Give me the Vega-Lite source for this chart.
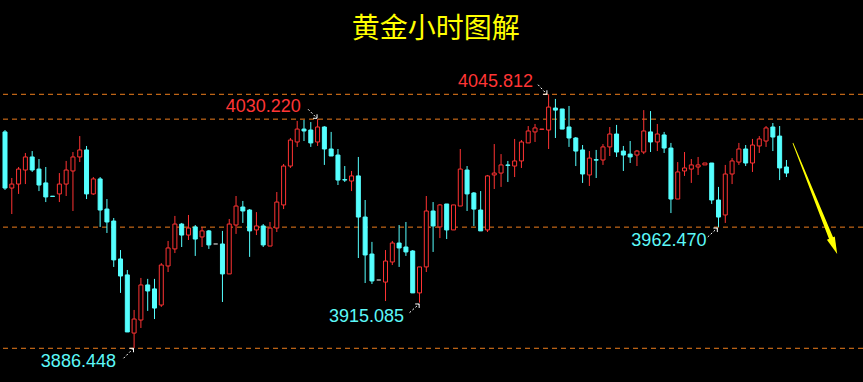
{
 "$schema": "https://vega.github.io/schema/vega-lite/v6.json",
 "width": 863, "height": 382, "padding": 0, "autosize": {"type": "none"},
 "background": "#000000",
 "config": {"view": {"stroke": null}},
 "datasets": {
  "candles": [
   {"i":0,"o":4022.2,"h":4023.4,"l":3985.8,"c":3987.0},
   {"i":1,"o":3987.0,"h":3993.3,"l":3970.7,"c":3989.5},
   {"i":2,"o":3989.5,"h":4000.2,"l":3983.3,"c":3998.9},
   {"i":3,"o":3998.3,"h":4009.0,"l":3989.5,"c":4006.5},
   {"i":4,"o":4006.5,"h":4010.2,"l":3997.1,"c":3998.3},
   {"i":5,"o":3998.9,"h":4005.2,"l":3985.1,"c":3988.9},
   {"i":6,"o":3990.2,"h":4000.2,"l":3978.2,"c":3981.4},
   {"i":7,"o":3981.9,"h":3982.0,"l":3981.5,"c":3981.7},
   {"i":8,"o":3983.3,"h":3996.4,"l":3978.2,"c":3989.5},
   {"i":9,"o":3989.5,"h":4004.0,"l":3982.0,"c":3998.3},
   {"i":10,"o":3997.7,"h":4009.6,"l":3972.6,"c":4006.5},
   {"i":11,"o":4006.5,"h":4019.6,"l":4003.3,"c":4010.9},
   {"i":12,"o":4010.9,"h":4013.4,"l":3980.1,"c":3983.3},
   {"i":13,"o":3983.3,"h":3993.9,"l":3982.7,"c":3992.7},
   {"i":14,"o":3992.7,"h":3993.9,"l":3962.6,"c":3973.2},
   {"i":15,"o":3973.8,"h":3980.1,"l":3958.8,"c":3965.7},
   {"i":16,"o":3966.3,"h":3968.2,"l":3937.5,"c":3941.9},
   {"i":17,"o":3942.5,"h":3948.1,"l":3921.2,"c":3931.8},
   {"i":18,"o":3932.5,"h":3935.6,"l":3896.7,"c":3896.7},
   {"i":19,"o":3896.0,"h":3910.5,"l":3886.448,"c":3904.8},
   {"i":20,"o":3904.2,"h":3930.6,"l":3899.2,"c":3926.2},
   {"i":21,"o":3926.2,"h":3930.0,"l":3909.9,"c":3922.4},
   {"i":22,"o":3923.7,"h":3930.0,"l":3904.8,"c":3911.7},
   {"i":23,"o":3913.6,"h":3939.9,"l":3912.4,"c":3938.7},
   {"i":24,"o":3938.1,"h":3953.8,"l":3934.3,"c":3949.4},
   {"i":25,"o":3948.8,"h":3969.5,"l":3946.2,"c":3964.4},
   {"i":26,"o":3964.4,"h":3965.1,"l":3950.0,"c":3957.5},
   {"i":27,"o":3957.5,"h":3970.1,"l":3954.4,"c":3961.9},
   {"i":28,"o":3962.6,"h":3963.8,"l":3944.4,"c":3955.0},
   {"i":29,"o":3956.3,"h":3962.6,"l":3950.0,"c":3960.1},
   {"i":30,"o":3960.1,"h":3960.7,"l":3948.8,"c":3951.3},
   {"i":31,"o":3951.9,"h":3951.9,"l":3951.9,"c":3951.9},
   {"i":32,"o":3951.9,"h":3960.1,"l":3915.5,"c":3933.1},
   {"i":33,"o":3933.1,"h":3967.6,"l":3933.1,"c":3964.4},
   {"i":34,"o":3963.8,"h":3982.0,"l":3958.2,"c":3975.7},
   {"i":35,"o":3975.1,"h":3978.9,"l":3965.1,"c":3972.6},
   {"i":36,"o":3973.2,"h":3973.8,"l":3943.8,"c":3960.1},
   {"i":37,"o":3960.7,"h":3971.9,"l":3957.5,"c":3963.2},
   {"i":38,"o":3963.2,"h":3964.4,"l":3950.0,"c":3951.3},
   {"i":39,"o":3950.6,"h":3965.7,"l":3950.6,"c":3961.9},
   {"i":40,"o":3961.9,"h":3984.5,"l":3959.4,"c":3978.2},
   {"i":41,"o":3976.4,"h":4002.1,"l":3973.8,"c":4000.8},
   {"i":42,"o":4000.8,"h":4018.4,"l":3999.6,"c":4017.1},
   {"i":43,"o":4015.9,"h":4029.1,"l":4012.8,"c":4024.0},
   {"i":44,"o":4024.0,"h":4029.7,"l":4016.5,"c":4022.8},
   {"i":45,"o":4023.4,"h":4028.4,"l":4012.8,"c":4015.3},
   {"i":46,"o":4015.9,"h":4030.22,"l":4013.4,"c":4025.3},
   {"i":47,"o":4025.3,"h":4025.8,"l":4001.5,"c":4011.5},
   {"i":48,"o":4011.5,"h":4022.2,"l":4007.1,"c":4007.1},
   {"i":49,"o":4007.7,"h":4011.5,"l":3988.9,"c":3992.0},
   {"i":50,"o":3992.3,"h":4000.8,"l":3990.8,"c":3992.0},
   {"i":51,"o":3991.4,"h":3997.7,"l":3985.1,"c":3994.6},
   {"i":52,"o":3994.6,"h":4006.5,"l":3943.1,"c":3968.8},
   {"i":53,"o":3968.8,"h":3979.5,"l":3927.4,"c":3945.0},
   {"i":54,"o":3945.6,"h":3953.2,"l":3926.8,"c":3928.7},
   {"i":55,"o":3929.3,"h":3929.3,"l":3929.3,"c":3929.3},
   {"i":56,"o":3928.0,"h":3948.1,"l":3916.1,"c":3941.2},
   {"i":57,"o":3940.6,"h":3953.8,"l":3938.7,"c":3952.5},
   {"i":58,"o":3952.5,"h":3963.8,"l":3937.5,"c":3949.4},
   {"i":59,"o":3950.0,"h":3965.7,"l":3944.4,"c":3946.9},
   {"i":60,"o":3947.5,"h":3948.1,"l":3921.2,"c":3921.2},
   {"i":61,"o":3921.2,"h":3937.5,"l":3915.085,"c":3937.5},
   {"i":62,"o":3937.5,"h":3982.0,"l":3934.3,"c":3972.6},
   {"i":63,"o":3972.6,"h":3978.2,"l":3946.9,"c":3963.2},
   {"i":64,"o":3962.6,"h":3977.0,"l":3955.6,"c":3976.4},
   {"i":65,"o":3977.0,"h":3977.0,"l":3955.0,"c":3960.7},
   {"i":66,"o":3960.7,"h":3976.4,"l":3960.7,"c":3976.4},
   {"i":67,"o":3975.7,"h":4011.5,"l":3975.7,"c":3998.9},
   {"i":68,"o":3998.3,"h":4000.8,"l":3972.6,"c":3983.3},
   {"i":69,"o":3983.9,"h":3984.5,"l":3963.2,"c":3973.8},
   {"i":70,"o":3973.2,"h":3985.1,"l":3960.1,"c":3960.1},
   {"i":71,"o":3960.7,"h":3995.2,"l":3959.4,"c":3994.6},
   {"i":72,"o":3995.2,"h":4014.6,"l":3986.4,"c":3996.4},
   {"i":73,"o":3996.4,"h":4008.3,"l":3987.7,"c":4001.5},
   {"i":74,"o":4001.5,"h":4004.0,"l":3990.8,"c":4001.2},
   {"i":75,"o":4000.8,"h":4017.8,"l":3993.9,"c":4004.0},
   {"i":76,"o":4004.0,"h":4017.1,"l":3999.6,"c":4015.9},
   {"i":77,"o":4015.3,"h":4025.9,"l":4015.3,"c":4022.8},
   {"i":78,"o":4022.2,"h":4027.2,"l":4015.9,"c":4024.7},
   {"i":79,"o":4023.8,"h":4024.0,"l":4023.8,"c":4024.0},
   {"i":80,"o":4023.4,"h":4045.812,"l":4011.5,"c":4037.8},
   {"i":81,"o":4037.2,"h":4042.9,"l":4018.4,"c":4035.9},
   {"i":82,"o":4036.6,"h":4036.6,"l":4024.0,"c":4024.0},
   {"i":83,"o":4025.3,"h":4038.5,"l":4012.8,"c":4018.4},
   {"i":84,"o":4018.4,"h":4019.0,"l":4000.8,"c":4010.2},
   {"i":85,"o":4010.9,"h":4014.0,"l":3990.2,"c":3995.8},
   {"i":86,"o":3995.2,"h":4010.2,"l":3988.3,"c":4005.8},
   {"i":87,"o":4004.8,"h":4010.9,"l":3993.3,"c":4004.5},
   {"i":88,"o":4004.6,"h":4014.6,"l":4001.5,"c":4012.8},
   {"i":89,"o":4012.8,"h":4025.3,"l":4007.1,"c":4020.9},
   {"i":90,"o":4020.9,"h":4026.6,"l":4006.5,"c":4009.6},
   {"i":91,"o":4010.2,"h":4013.4,"l":3997.7,"c":4007.7},
   {"i":92,"o":4008.3,"h":4016.5,"l":4002.7,"c":4006.5},
   {"i":93,"o":4007.7,"h":4010.9,"l":4000.8,"c":4010.2},
   {"i":94,"o":4009.6,"h":4035.9,"l":4008.3,"c":4022.8},
   {"i":95,"o":4022.2,"h":4035.3,"l":4009.6,"c":4015.9},
   {"i":96,"o":4015.9,"h":4027.2,"l":4010.2,"c":4020.9},
   {"i":97,"o":4020.3,"h":4022.2,"l":4009.0,"c":4012.1},
   {"i":98,"o":4012.1,"h":4015.3,"l":3971.3,"c":3980.1},
   {"i":99,"o":3980.1,"h":4003.3,"l":3980.1,"c":3997.1},
   {"i":100,"o":3997.7,"h":4009.6,"l":3994.6,"c":3999.6},
   {"i":101,"o":3998.9,"h":4005.2,"l":3990.2,"c":4001.5},
   {"i":102,"o":4000.2,"h":4006.5,"l":3995.2,"c":4001.5},
   {"i":103,"o":4001.5,"h":4002.7,"l":4001.5,"c":4002.7},
   {"i":104,"o":4002.7,"h":4002.7,"l":3977.0,"c":3979.5},
   {"i":105,"o":3979.5,"h":3987.7,"l":3962.47,"c":3968.8},
   {"i":106,"o":3970.1,"h":4001.5,"l":3965.1,"c":3995.8},
   {"i":107,"o":3995.8,"h":4005.8,"l":3989.5,"c":4004.0},
   {"i":108,"o":4003.3,"h":4015.3,"l":4001.5,"c":4011.5},
   {"i":109,"o":4011.5,"h":4014.0,"l":4000.8,"c":4002.7},
   {"i":110,"o":4002.7,"h":4017.8,"l":3997.1,"c":4014.0},
   {"i":111,"o":4013.4,"h":4019.6,"l":4009.0,"c":4017.8},
   {"i":112,"o":4016.5,"h":4025.9,"l":4012.8,"c":4024.7},
   {"i":113,"o":4025.3,"h":4027.8,"l":4010.2,"c":4019.0},
   {"i":114,"o":4019.6,"h":4025.9,"l":3992.0,"c":3999.6},
   {"i":115,"o":4000.2,"h":4004.6,"l":3993.9,"c":3996.4}
  ],
  "levels": [{"p":4045.812},{"p":4030.22},{"p":3962.47},{"p":3886.448}],
  "labels": [
   {"i":72.19,"p":4053.7,"t":"4045.812","kind":"high"},
   {"i":38.0,"p":4038.0,"t":"4030.220","kind":"high"},
   {"i":10.8,"p":3878.05,"t":"3886.448","kind":"low"},
   {"i":53.2,"p":3906.3,"t":"3915.085","kind":"low"},
   {"i":97.7,"p":3953.8,"t":"3962.470","kind":"low"}
  ],
  "heading": [{"i":63.4,"p":4086.2,"t":"黄金小时图解"}],
  "arrows": [
   {"i1":78.44,"p1":4051.84,"i2":79.75,"p2":4045.81},
   {"i1":44.61,"p1":4036.4,"i2":45.92,"p2":4030.76},
   {"i1":17.45,"p1":3880.2,"i2":18.91,"p2":3886.46},
   {"i1":59.53,"p1":3908.8,"i2":60.95,"p2":3914.25},
   {"i1":103.42,"p1":3956.3,"i2":104.83,"p2":3961.9}
  ],
  "trend": [{"i":115.97,"p":4015.07},{"i":121.6,"p":3955.2}],
  "trendHead": [{"i":122.0,"p":3950.58}]
 },
 "layer": [
  {
   "data": {"name": "levels"},
   "mark": {"type": "rule", "color": "#ee7d1c", "strokeWidth": 1, "strokeDash": [5, 4]},
   "encoding": {
    "y": {"field": "p", "type": "quantitative", "scale": {"domain": [3865.3, 4104.98], "nice": false, "zero": false}, "axis": null}
   }
  },
  {
   "data": {"name": "heading"},
   "mark": {"type": "text", "font": "Noto Sans CJK SC", "fontSize": 28, "align": "center", "baseline": "middle", "color": "#ffff00"},
   "encoding": {
    "x": {"field": "i", "type": "quantitative", "scale": {"domain": [0, 125.53], "nice": false, "zero": false}, "axis": null},
    "y": {"field": "p", "type": "quantitative", "scale": {"domain": [3865.3, 4104.98], "nice": false, "zero": false}, "axis": null},
    "text": {"field": "t"}
   }
  },
  {
   "data": {"name": "candles"},
   "mark": {"type": "rule", "strokeWidth": 1, "clip": true},
   "encoding": {
    "x": {"field": "i", "type": "quantitative", "scale": {"domain": [0, 125.53], "nice": false, "zero": false}, "axis": null},
    "y": {"field": "l", "type": "quantitative", "scale": {"domain": [3865.3, 4104.98], "nice": false, "zero": false}, "axis": null},
    "y2": {"field": "h"},
    "color": {"condition": [{"test": "datum.c > datum.o", "value": "#ff3333"}, {"test": "datum.c < datum.o", "value": "#55ffff"}], "value": "#a8a8a8"}
   }
  },
  {
   "data": {"name": "candles"},
   "mark": {"type": "bar", "size": 4, "strokeWidth": 1, "clip": true},
   "encoding": {
    "x": {"field": "i", "type": "quantitative", "scale": {"domain": [0, 125.53], "nice": false, "zero": false}, "axis": null},
    "y": {"field": "o", "type": "quantitative", "scale": {"domain": [3865.3, 4104.98], "nice": false, "zero": false}, "axis": null},
    "y2": {"field": "c"},
    "stroke": {"condition": [{"test": "datum.c > datum.o", "value": "#ff3333"}, {"test": "datum.c < datum.o", "value": "#55ffff"}], "value": "#a8a8a8"},
    "fill": {"condition": [{"test": "datum.c > datum.o", "value": "#000000"}, {"test": "datum.c < datum.o", "value": "#55ffff"}], "value": "#a8a8a8"}
   }
  },
  {
   "data": {"name": "labels"},
   "mark": {"type": "text", "font": "Liberation Sans", "fontSize": 18, "align": "center", "baseline": "middle"},
   "encoding": {
    "x": {"field": "i", "type": "quantitative", "scale": {"domain": [0, 125.53], "nice": false, "zero": false}, "axis": null},
    "y": {"field": "p", "type": "quantitative", "scale": {"domain": [3865.3, 4104.98], "nice": false, "zero": false}, "axis": null},
    "text": {"field": "t"},
    "color": {"field": "kind", "type": "nominal", "scale": {"domain": ["high", "low"], "range": ["#ff3535", "#5cf8f8"]}, "legend": null}
   }
  },
  {
   "data": {"name": "arrows"},
   "mark": {"type": "rule", "color": "#ffffff", "strokeWidth": 1, "strokeDash": [2, 2]},
   "encoding": {
    "x": {"field": "i1", "type": "quantitative", "scale": {"domain": [0, 125.53], "nice": false, "zero": false}, "axis": null},
    "y": {"field": "p1", "type": "quantitative", "scale": {"domain": [3865.3, 4104.98], "nice": false, "zero": false}, "axis": null},
    "x2": {"field": "i2"},
    "y2": {"field": "p2"}
   }
  },
  {
   "data": {"name": "arrows"},
   "transform": [{"filter": "datum.p2 > datum.p1"}],
   "mark": {"type": "point", "shape": "M0,0L-1,0M0,0L0,1", "size": 64, "filled": false, "color": "#ffffff", "strokeWidth": 1, "opacity": 1},
   "encoding": {
    "x": {"field": "i2", "type": "quantitative", "scale": {"domain": [0, 125.53], "nice": false, "zero": false}, "axis": null},
    "y": {"field": "p2", "type": "quantitative", "scale": {"domain": [3865.3, 4104.98], "nice": false, "zero": false}, "axis": null}
   }
  },
  {
   "data": {"name": "arrows"},
   "transform": [{"filter": "datum.p2 < datum.p1"}],
   "mark": {"type": "point", "shape": "M0,0L-1,0M0,0L0,-1", "size": 64, "filled": false, "color": "#ffffff", "strokeWidth": 1, "opacity": 1},
   "encoding": {
    "x": {"field": "i2", "type": "quantitative", "scale": {"domain": [0, 125.53], "nice": false, "zero": false}, "axis": null},
    "y": {"field": "p2", "type": "quantitative", "scale": {"domain": [3865.3, 4104.98], "nice": false, "zero": false}, "axis": null}
   }
  },
  {
   "data": {"name": "trend"},
   "mark": {"type": "trail", "color": "#ffff00"},
   "encoding": {
    "x": {"field": "i", "type": "quantitative", "scale": {"domain": [0, 125.53], "nice": false, "zero": false}, "axis": null},
    "y": {"field": "p", "type": "quantitative", "scale": {"domain": [3865.3, 4104.98], "nice": false, "zero": false}, "axis": null},
    "size": {"field": "p", "type": "quantitative", "scale": {"domain": [3955, 4016], "range": [4.5, 0.8]}, "legend": null}
   }
  },
  {
   "data": {"name": "trendHead"},
   "mark": {"type": "point", "shape": "M-0.5,-1L0.5,-1L0,1Z", "size": 289, "filled": true, "color": "#ffff00", "opacity": 1, "angle": 338},
   "encoding": {
    "x": {"field": "i", "type": "quantitative", "scale": {"domain": [0, 125.53], "nice": false, "zero": false}, "axis": null},
    "y": {"field": "p", "type": "quantitative", "scale": {"domain": [3865.3, 4104.98], "nice": false, "zero": false}, "axis": null}
   }
  }
 ]
}
